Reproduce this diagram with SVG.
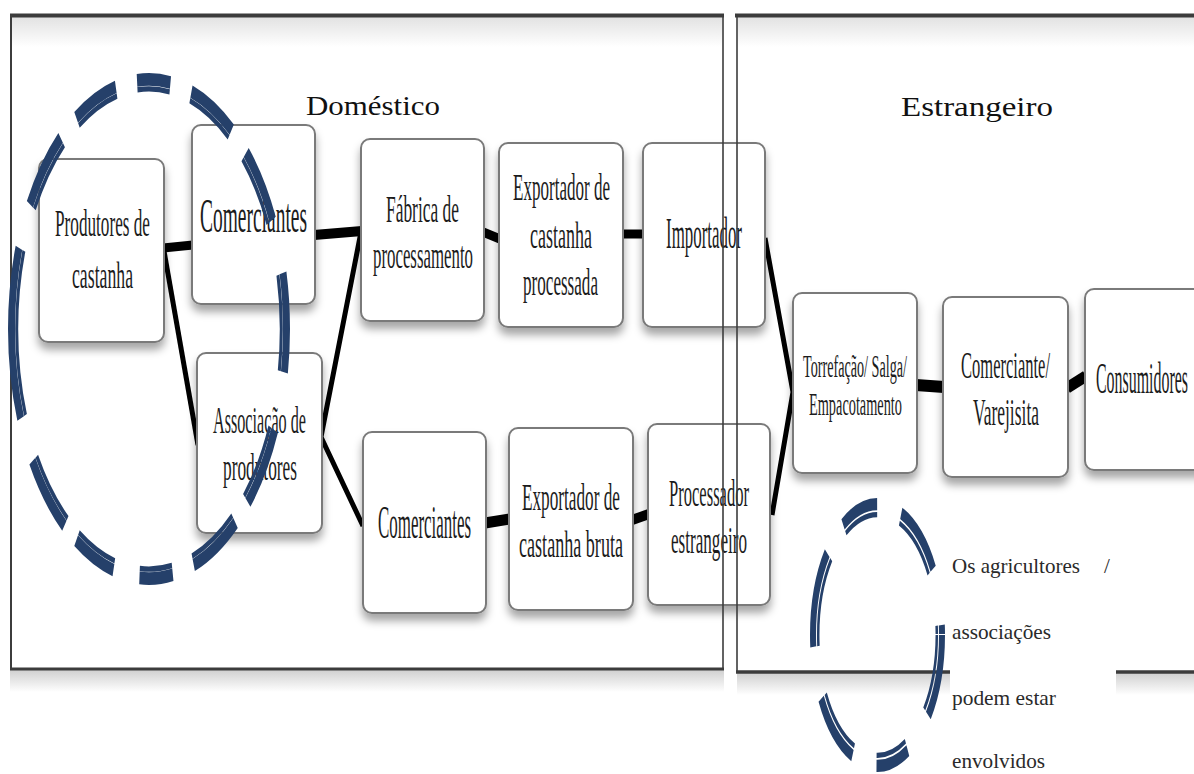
<svg xmlns="http://www.w3.org/2000/svg" width="1194" height="774" viewBox="0 0 1194 774">
<defs>
  <filter id="sh" x="-20%" y="-20%" width="140%" height="150%">
    <feDropShadow dx="0" dy="7" stdDeviation="4" flood-color="#000" flood-opacity="0.35"/>
  </filter>
  <linearGradient id="topg" x1="0" y1="0" x2="0" y2="1">
    <stop offset="0" stop-color="#e2e2e2"/>
    <stop offset="1" stop-color="#ffffff"/>
  </linearGradient>
  <linearGradient id="botg" x1="0" y1="0" x2="0" y2="1">
    <stop offset="0" stop-color="#d0d0d0"/>
    <stop offset="1" stop-color="#ffffff"/>
  </linearGradient>
  <style>
    .box{fill:#fff;stroke:#7a7a7a;stroke-width:2;filter:url(#sh)}
    .t{font-family:"Liberation Serif","Times New Roman",serif;fill:#1c1c1c;}
    .title{font-family:"Liberation Serif","Times New Roman",serif;fill:#111;font-size:27px}
    .note{font-family:"Liberation Serif","Times New Roman",serif;fill:#2a2a2a;font-size:21px}
    .thick{stroke:#000;fill:none;stroke-linecap:butt}
    .frame{stroke:#3c3c3c;fill:none}
    .dash{fill:none;stroke:#25406a}
  </style>
</defs>
<rect width="1194" height="774" fill="#fff"/>

<!-- frame shading -->
<g id="frame-shading">
  <rect x="12" y="17" width="710" height="30" fill="url(#topg)"/>
  <rect x="738" y="17" width="456" height="30" fill="url(#topg)"/>
  <rect x="10" y="670" width="714" height="22" fill="url(#botg)"/>
  <rect x="737" y="673" width="457" height="22" fill="url(#botg)"/>
</g>

<!-- connectors -->
<g id="connectors">
  <line class="thick" x1="163" y1="248" x2="193" y2="245" stroke-width="9"/>
  <line class="thick" x1="164" y1="251" x2="198" y2="445" stroke-width="5"/>
  <line class="thick" x1="314" y1="235" x2="362" y2="231" stroke-width="10"/>
  <polyline class="thick" points="361,232 321,437 363,526" stroke-width="5" stroke-linejoin="miter"/>
  <line class="thick" x1="483" y1="232" x2="500" y2="239" stroke-width="9"/>
  <line class="thick" x1="622" y1="234" x2="644" y2="234" stroke-width="9"/>
  <line class="thick" x1="485" y1="523" x2="510" y2="519" stroke-width="11"/>
  <line class="thick" x1="632" y1="520" x2="649" y2="514" stroke-width="10"/>
  <polyline class="thick" points="765,238 793,392 772,515" stroke-width="5" stroke-linejoin="miter"/>
  <line class="thick" x1="916" y1="385" x2="944" y2="387" stroke-width="12"/>
  <line class="thick" x1="1067" y1="388" x2="1086" y2="376" stroke-width="11"/>
</g>

<!-- nodes -->
<g id="n-produtores">
  <rect class="box" x="39" y="159" width="125" height="183" rx="9"/>
  <text class="t" font-size="38"><tspan x="55" y="236" textLength="95" lengthAdjust="spacingAndGlyphs">Produtores de</tspan><tspan x="72" y="288" textLength="61" lengthAdjust="spacingAndGlyphs">castanha</tspan></text>
</g>
<g id="n-comerciantes-top">
  <rect class="box" x="192" y="125" width="123" height="179" rx="9"/>
  <text class="t" font-size="48" x="200" y="232" textLength="107" lengthAdjust="spacingAndGlyphs">Comerciantes</text>
</g>
<g id="n-associacao">
  <rect class="box" x="197" y="353" width="125" height="180" rx="9"/>
  <text class="t" font-size="37"><tspan x="213" y="433" textLength="93" lengthAdjust="spacingAndGlyphs">Associação de</tspan><tspan x="223" y="480" textLength="74" lengthAdjust="spacingAndGlyphs">produtores</tspan></text>
</g>
<g id="n-fabrica">
  <rect class="box" x="361" y="139" width="123" height="182" rx="9"/>
  <text class="t" font-size="37"><tspan x="386" y="222" textLength="73" lengthAdjust="spacingAndGlyphs">Fábrica de</tspan><tspan x="373" y="268" textLength="100" lengthAdjust="spacingAndGlyphs">processamento</tspan></text>
</g>
<g id="n-exportador-processada">
  <rect class="box" x="499" y="143" width="124" height="184" rx="9"/>
  <text class="t" font-size="38"><tspan x="513" y="200" textLength="97" lengthAdjust="spacingAndGlyphs">Exportador de</tspan><tspan x="530" y="248" textLength="62" lengthAdjust="spacingAndGlyphs">castanha</tspan><tspan x="523" y="295" textLength="75" lengthAdjust="spacingAndGlyphs">processada</tspan></text>
</g>
<g id="n-importador">
  <rect class="box" x="643" y="143" width="122" height="184" rx="9"/>
  <text class="t" font-size="44" x="666" y="248" textLength="76" lengthAdjust="spacingAndGlyphs">Importador</text>
</g>
<g id="n-comerciantes-bottom">
  <rect class="box" x="363" y="432" width="123" height="181" rx="9"/>
  <text class="t" font-size="46" x="378" y="538" textLength="93" lengthAdjust="spacingAndGlyphs">Comerciantes</text>
</g>
<g id="n-exportador-bruta">
  <rect class="box" x="509" y="428" width="124" height="182" rx="9"/>
  <text class="t" font-size="38"><tspan x="522" y="510" textLength="98" lengthAdjust="spacingAndGlyphs">Exportador de</tspan><tspan x="519" y="557" textLength="104" lengthAdjust="spacingAndGlyphs">castanha bruta</tspan></text>
</g>
<g id="n-processador">
  <rect class="box" x="648" y="424" width="122" height="181" rx="9"/>
  <text class="t" font-size="38"><tspan x="669" y="506" textLength="80" lengthAdjust="spacingAndGlyphs">Processador</tspan><tspan x="671" y="553" textLength="76" lengthAdjust="spacingAndGlyphs">estrangeiro</tspan></text>
</g>
<g id="n-torrefacao">
  <rect class="box" x="793" y="293" width="124" height="180" rx="9"/>
  <text class="t" font-size="31"><tspan x="803" y="377" textLength="104" lengthAdjust="spacingAndGlyphs">Torrefação/ Salga/</tspan><tspan x="809" y="415" textLength="93" lengthAdjust="spacingAndGlyphs">Empacotamento</tspan></text>
</g>
<g id="n-varejista">
  <rect class="box" x="943" y="297" width="125" height="180" rx="9"/>
  <text class="t" font-size="38"><tspan x="961" y="378" textLength="89" lengthAdjust="spacingAndGlyphs">Comerciante/</tspan><tspan x="973" y="425" textLength="66" lengthAdjust="spacingAndGlyphs">Varejisita</tspan></text>
</g>
<g id="n-consumidores">
  <rect class="box" x="1085" y="289" width="130" height="181" rx="9"/>
  <text class="t" font-size="44" x="1096" y="393" textLength="92" lengthAdjust="spacingAndGlyphs">Consumidores</text>
</g>

<!-- frames -->
<g id="frames">
  <line class="frame" x1="10" y1="15.5" x2="724" y2="15.5" stroke-width="4" stroke="#4a4a4a"/>
  <line class="frame" x1="11" y1="14" x2="11" y2="670" stroke-width="2"/>
  <line class="frame" x1="723" y1="14" x2="723" y2="670" stroke-width="1.6"/>
  <line class="frame" x1="10" y1="669" x2="724" y2="669" stroke-width="3" stroke="#4a4a4a"/>
  <line class="frame" x1="735" y1="15.5" x2="1194" y2="15.5" stroke-width="4" stroke="#4a4a4a"/>
  <line class="frame" x1="737" y1="14" x2="737" y2="673" stroke-width="1.6"/>
  <line class="frame" x1="736" y1="672" x2="1194" y2="672" stroke-width="3.5" stroke="#4a4a4a"/>
</g>

<g id="titles">
  <text class="title" x="306" y="115" textLength="134" lengthAdjust="spacingAndGlyphs">Doméstico</text>
  <text class="title" x="901" y="116" textLength="152" lengthAdjust="spacingAndGlyphs">Estrangeiro</text>
</g>

<!-- dashed double ellipse, left -->
<g id="ellipse-left" transform="translate(149 329) scale(1 1.815)">
  <circle class="dash" r="137.5" stroke-width="7" pathLength="360" stroke-dasharray="10 14 20 7 20 9 14 11 17 6 20 11 40 11 20 8 18 9 14 9 19 8 19 13 13"/>
  <circle class="dash" r="132.3" stroke-width="3" pathLength="360" stroke-dasharray="10 14 20 7 20 9 14 11 17 6 20 11 40 11 20 8 18 9 14 9 19 8 19 13 13"/>
</g>

<!-- note box -->
<g id="note">
  <rect x="950" y="540" width="166" height="234" fill="#fff"/>
  <g id="ellipse-right" transform="translate(877.5 635) scale(1 2.03)">
    <circle class="dash" r="64.5" stroke-width="6" pathLength="360" stroke-dasharray="38 24 29 22 38 24 44 19 32 22 38 26 4"/>
    <circle class="dash" r="59.3" stroke-width="2.5" pathLength="360" stroke-dasharray="38 24 29 22 38 24 44 19 32 22 38 26 4"/>
  </g>
  <text class="note" x="952" y="573" textLength="128" lengthAdjust="spacingAndGlyphs">Os agricultores</text>
  <text class="note" x="1104" y="573">/</text>
  <text class="note" x="952" y="639" textLength="99" lengthAdjust="spacingAndGlyphs">associações</text>
  <text class="note" x="952" y="705" textLength="104" lengthAdjust="spacingAndGlyphs">podem estar</text>
  <text class="note" x="952" y="768" textLength="93" lengthAdjust="spacingAndGlyphs">envolvidos</text>
</g>
</svg>
